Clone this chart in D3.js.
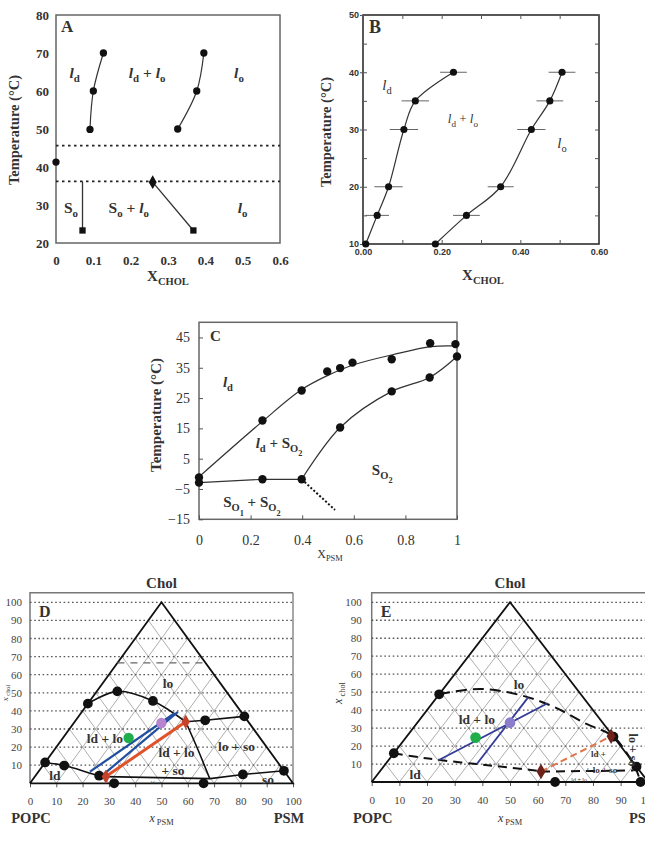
<!DOCTYPE html>
<html>
<head>
<meta charset="utf-8">
<script src="https://cdn.jsdelivr.net/npm/d3@7"></script>
<style>
body { margin: 0; background: #fff; }
svg text { font-family: "Liberation Serif", "Times New Roman", serif; font-weight: bold; fill: #333; }
</style>
</head>
<body>
<svg id="chart" width="645" height="845"></svg>
<script>
// ---------- panel A : T vs x_chol ----------
var aLdBound = [[0.091, 49.9], [0.100, 60], [0.127, 70]];
var aLoBound = [[0.326, 50], [0.377, 60], [0.396, 70]];
var aPureTm = [[0, 41.3]];
var aDotted = [45.6, 36.2];
var aSoLine = [[0.071, 36.2], [0.071, 23.3]];
var aSoLo = [[0.259, 36], [0.368, 23.3]];
var aXTicks = [0, 0.1, 0.2, 0.3, 0.4, 0.5, 0.6];
var aYTicks = [20, 30, 40, 50, 60, 70, 80];

// ---------- panel B : [x_chol, T, error] ----------
var bLd = [[0.007, 10, 0], [0.036, 15, 0.03], [0.065, 20, 0.036], [0.104, 30, 0.036], [0.133, 35, 0.035], [0.23, 40, 0.034]];
var bLo = [[0.184, 10, 0], [0.263, 15, 0.034], [0.35, 20, 0.033], [0.428, 30, 0.036], [0.475, 35, 0.034], [0.506, 40, 0.034]];
var bXTicks = [0, 0.2, 0.4, 0.6];
var bYTicks = [10, 20, 30, 40, 50];

// ---------- panel C : T vs x_psm ----------
var cLiquidus = [[0, -1.2], [0.246, 17.6], [0.398, 27.5], [0.497, 33.8], [0.547, 34.9], [0.595, 36.7], [0.747, 37.8], [0.896, 43.1], [0.994, 42.8]];
var cLiquidusFit = [[0, -1], [0.246, 17.3], [0.398, 27.8], [0.5, 32.5], [0.6, 36], [0.75, 39.3], [0.9, 42], [1, 42.2]];
var cSolidusFlat = [[0, -2.9], [0.246, -1.8], [0.398, -1.8]];
var cSolidus = [[0.398, -1.8], [0.547, 15.3], [0.747, 27.2], [0.894, 31.8], [1, 38.7]];
var cEutectic = [[0.398, -1.8], [0.527, -11.9]];
var cXTicks = [0, 0.2, 0.4, 0.6, 0.8, 1];
var cYTicks = [-15, -5, 5, 15, 25, 35, 45];

// ---------- panel D : ternary, points as [x_psm, x_chol] ----------
var dLoBound = [[0, 44], [7.8, 50.8], [24, 45.5], [42.2, 34]];
var dLoSo = [[42.2, 34], [49.2, 34.8], [63, 37]];
var dLdBound = [[0, 11.5], [8.1, 9.8], [24.2, 4.2], [27, 3.7]];
var dBase = [[27, 3.7], [67.2, 2.6], [78.5, 4.9], [93.1, 6.9]];
var dRight = [[42.2, 34], [53.2, 20.3], [67.2, 2.4]];
var dDash66 = [[0, 66.5], [33.5, 66.5]];
var dBlue = [[[19.6, 6.4], [35.6, 38.7]], [[25.3, 4.4], [36.5, 39.5]]];
var dDots = [[0, 11.5], [8.1, 9.8], [0, 44], [7.8, 50.8], [24, 45.5], [49.2, 34.8], [63, 37], [93.1, 6.9], [78.5, 4.9], [66, 0], [32, 0], [24.2, 4.2]];
var dDiamonds = [[27, 3.7], [42.2, 34]];
var dPurple = [33.3, 33.3];
var dGreen = [25, 25];

// ---------- panel E ----------
var eLoBound = [[0, 48.8], [13.3, 51.8], [29.4, 48.4], [44.8, 41.9], [61.5, 32.3], [74.8, 25.2], [90.8, 8.6], [97.2, 0]];
var eLdBound = [[0, 16], [10.6, 13.7], [18.6, 12.2], [33, 10], [44.7, 8.2], [55.2, 6.5], [58.3, 5.8]];
var eBase = [[58.3, 5.8], [91.4, 6.4]];
var eRedTie = [[58.3, 5.8], [73.8, 25.5]];
var eBlue = [[[18.2, 12.2], [41.7, 43.8]], [[33, 10], [33, 47.1]]];
var eDots = [[0, 48.8], [0, 16], [74.8, 25.2], [91.5, 8.5], [97.2, 0], [66.3, 0]];
var eDiamonds = [[58.3, 5.8], [73.8, 25.5]];
var ePurple = [33.5, 33];
var eGreen = [25.2, 24.7];

var ternTicks = [0, 10, 20, 30, 40, 50, 60, 70, 80, 90, 100];

var svg = d3.select("#chart");

// text with italic / subscript parts: [text, "i" | "s" | "is" | "ss"]
function richText(g, x, y, parts, size, anchor) {
    var t = g.append("text").attr("x", x).attr("y", y)
        .attr("font-size", size).attr("text-anchor", anchor || "middle");
    var level = 0;
    var scale = [1, 0.7, 0.55];
    parts.forEach(function (p) {
        var st = p[1] || "";
        var lv = (st.match(/s/g) || []).length;
        var ts = t.append("tspan").text(p[0]);
        if (lv != level) ts.attr("dy", (lv - level) * size * 0.28);
        if (lv > 0) ts.attr("font-size", size * scale[lv]);
        if (st.indexOf("i") >= 0) ts.attr("font-style", "italic");
        level = lv;
    });
    return t;
}

function frame(g, l, t, r, b, col) {
    g.append("rect").attr("x", l).attr("y", t).attr("width", r - l).attr("height", b - t)
        .attr("fill", "none").attr("stroke", col || "#666").attr("stroke-width", 1.5);
}

function styleAxis(g, size, fam) {
    g.select(".domain").remove();
    g.attr("font-size", size);
    g.selectAll("line").attr("stroke", "#555");
    if (fam) g.selectAll("text").style("font-family", fam);
}

function marks(g, pts, type, size, fill, xs, ys) {
    g.selectAll(null).data(pts).enter().append("path")
        .attr("d", d3.symbol().type(type).size(size))
        .attr("transform", function (d) { return "translate(" + xs(d) + "," + ys(d) + ")"; })
        .attr("fill", fill);
}

var fmt = d3.format("~g");

// ================= A =================
(function () {
    var P = { l: 56, r: 280, t: 15, b: 243 };
    var x = d3.scaleLinear().domain([0, 0.6]).range([P.l, P.r]);
    var y = d3.scaleLinear().domain([20, 80]).range([P.b, P.t]);
    var g = svg.append("g");
    frame(g, P.l, P.t, P.r, P.b);
    g.append("g").attr("transform", "translate(" + P.l + ",0)")
        .call(d3.axisLeft(y).tickValues(aYTicks).tickFormat(fmt).tickSize(0).tickPadding(7))
        .call(styleAxis, 13);
    g.append("g").attr("transform", "translate(0," + P.b + ")")
        .call(d3.axisBottom(x).tickValues(aXTicks).tickFormat(fmt).tickSize(0).tickPadding(13))
        .call(styleAxis, 13);

    var curve = d3.line().x(function (d) { return x(d[0]); }).y(function (d) { return y(d[1]); })
        .curve(d3.curveCatmullRom.alpha(0.5));
    [aLdBound, aLoBound].forEach(function (s) {
        g.append("path").attr("d", curve(s)).attr("fill", "none").attr("stroke", "#333").attr("stroke-width", 1.2);
    });
    var lin = d3.line().x(function (d) { return x(d[0]); }).y(function (d) { return y(d[1]); });
    [aSoLine, aSoLo].forEach(function (s) {
        g.append("path").attr("d", lin(s)).attr("fill", "none").attr("stroke", "#333").attr("stroke-width", 1.3);
    });
    g.selectAll(null).data(aDotted).enter().append("line")
        .attr("x1", P.l).attr("x2", P.r).attr("y1", function (d) { return y(d); }).attr("y2", function (d) { return y(d); })
        .attr("stroke", "#222").attr("stroke-width", 1.8).attr("stroke-dasharray", "2.5,3.5");

    var xs = function (d) { return x(d[0]); }, ys = function (d) { return y(d[1]); };
    marks(g, aLdBound.concat(aLoBound).concat(aPureTm), d3.symbolCircle, 42, "#111", xs, ys);
    marks(g, [aSoLine[1], aSoLo[1]], d3.symbolSquare, 40, "#111", xs, ys);
    marks(g, [aSoLo[0]], d3.symbolDiamond, 55, "#111", xs, ys);

    g.append("text").attr("x", 61).attr("y", 32).attr("font-size", 17).text("A");
    richText(g, x(0.05), y(63.4), [["l", "i"], ["d", "s"]], 15.5);
    richText(g, x(0.244), y(63.4), [["l", "i"], ["d", "s"], [" + "], ["l", "i"], ["o", "s"]], 15.5);
    richText(g, x(0.49), y(63.4), [["l", "i"], ["o", "s"]], 15.5);
    richText(g, x(0.04), y(27.9), [["S"], ["o", "s"]], 15.5);
    richText(g, x(0.195), y(27.9), [["S"], ["o", "s"], [" + "], ["l", "i"], ["o", "s"]], 15.5);
    richText(g, x(0.5), y(27.9), [["l", "i"], ["o", "s"]], 15.5);

    g.append("text").attr("transform", "translate(19,130) rotate(-90)").attr("text-anchor", "middle")
        .attr("font-size", 14.5).text("Temperature (°C)");
    richText(g, 168, 281, [["X"], ["CHOL", "s"]], 15);
})();

// ================= B =================
(function () {
    var P = { l: 363, r: 599, t: 15, b: 244 };
    var x = d3.scaleLinear().domain([0, 0.6]).range([P.l, P.r]);
    var y = d3.scaleLinear().domain([10, 50]).range([P.b, P.t]);
    var g = svg.append("g");
    frame(g, P.l, P.t, P.r, P.b, "#222");
    var sans = "Liberation Sans, Arial, sans-serif";
    var minorY = d3.range(10, 51, 5), minorX = d3.range(0, 0.61, 0.1);
    g.append("g").attr("transform", "translate(" + P.l + ",0)")
        .call(d3.axisLeft(y).tickValues(bYTicks).tickSize(3).tickPadding(1)).call(styleAxis, 9, sans);
    g.append("g").attr("transform", "translate(" + P.l + ",0)")
        .call(d3.axisLeft(y).tickValues(minorY).tickSize(-4).tickFormat("")).call(styleAxis, 9);
    g.append("g").attr("transform", "translate(" + P.r + ",0)")
        .call(d3.axisRight(y).tickValues(minorY).tickSize(-4).tickFormat("")).call(styleAxis, 9);
    g.append("g").attr("transform", "translate(0," + P.b + ")")
        .call(d3.axisBottom(x).tickValues(bXTicks).tickFormat(d3.format(".2f")).tickSize(0).tickPadding(5)).call(styleAxis, 9, sans);
    g.append("g").attr("transform", "translate(0," + P.b + ")")
        .call(d3.axisBottom(x).tickValues(minorX).tickSize(-4).tickFormat("")).call(styleAxis, 9);
    g.append("g").attr("transform", "translate(0," + P.t + ")")
        .call(d3.axisTop(x).tickValues(minorX).tickSize(-4).tickFormat("")).call(styleAxis, 9);

    var curve = d3.line().x(function (d) { return x(d[0]); }).y(function (d) { return y(d[1]); })
        .curve(d3.curveCatmullRom.alpha(0.5));
    [bLd, bLo].forEach(function (s) {
        g.append("path").attr("d", curve(s)).attr("fill", "none").attr("stroke", "#333").attr("stroke-width", 1.2);
        g.selectAll(null).data(s.filter(function (d) { return d[2] > 0; })).enter().append("line")
            .attr("x1", function (d) { return x(d[0] - d[2]); }).attr("x2", function (d) { return x(d[0] + d[2]); })
            .attr("y1", function (d) { return y(d[1]); }).attr("y2", function (d) { return y(d[1]); })
            .attr("stroke", "#666").attr("stroke-width", 1);
        marks(g, s, d3.symbolCircle, 40, "#111", function (d) { return x(d[0]); }, function (d) { return y(d[1]); });
    });

    g.append("text").attr("x", 369).attr("y", 33).attr("font-size", 18).text("B");
    richText(g, x(0.061), y(36.9), [["l", "i"], ["d", "s"]], 15).style("font-weight", "normal");
    richText(g, x(0.254), y(31.1), [["l", "i"], ["d", "s"], [" + "], ["l", "i"], ["o", "s"]], 13).style("font-weight", "normal");
    richText(g, x(0.506), y(26.8), [["l", "i"], ["o", "s"]], 15).style("font-weight", "normal");

    g.append("text").attr("transform", "translate(331,132) rotate(-90)").attr("text-anchor", "middle")
        .attr("font-size", 14.5).text("Temperature (°C)");
    richText(g, 483, 280, [["X"], ["CHOL", "s"]], 15);
})();

// ================= C =================
(function () {
    var P = { l: 199, r: 457, t: 322.3, b: 519.3 };
    var x = d3.scaleLinear().domain([0, 1]).range([P.l, P.r]);
    var y = d3.scaleLinear().domain([-15, 50]).range([P.b, P.t]);
    var g = svg.append("g");
    frame(g, P.l, P.t, P.r, P.b);
    g.append("g").attr("transform", "translate(" + P.l + ",0)")
        .call(d3.axisLeft(y).tickValues(cYTicks).tickFormat(fmt).tickSize(-4).tickPadding(9)).call(styleAxis, 14);
    g.append("g").attr("transform", "translate(0," + P.b + ")")
        .call(d3.axisBottom(x).tickValues(cXTicks).tickFormat(fmt).tickSize(-4).tickPadding(16)).call(styleAxis, 14);
    g.selectAll(".tick text").style("font-weight", "normal");

    var lin = d3.line().x(function (d) { return x(d[0]); }).y(function (d) { return y(d[1]); });
    var smooth = d3.line().x(function (d) { return x(d[0]); }).y(function (d) { return y(d[1]); })
        .curve(d3.curveCatmullRom.alpha(0.5));
    g.append("path").attr("d", smooth(cLiquidusFit)).attr("fill", "none").attr("stroke", "#333").attr("stroke-width", 1.2);
    g.append("path").attr("d", lin(cSolidusFlat)).attr("fill", "none").attr("stroke", "#333").attr("stroke-width", 1.2);
    g.append("path").attr("d", smooth(cSolidus)).attr("fill", "none").attr("stroke", "#333").attr("stroke-width", 1.2);
    g.append("path").attr("d", lin(cEutectic)).attr("fill", "none").attr("stroke", "#111").attr("stroke-width", 2)
        .attr("stroke-dasharray", "2,2");
    var xs = function (d) { return x(d[0]); }, ys = function (d) { return y(d[1]); };
    marks(g, cLiquidus.concat(cSolidusFlat).concat(cSolidus.slice(1)), d3.symbolCircle, 55, "#111", xs, ys);

    g.append("text").attr("x", 210).attr("y", 341).attr("font-size", 15).text("C");
    richText(g, x(0.112), y(28.6), [["l", "i"], ["d", "s"]], 15);
    richText(g, x(0.31), y(8.5), [["l", "i"], ["d", "s"], [" + S"], ["O", "s"], ["2", "ss"]], 15);
    richText(g, x(0.71), y(-0.4), [["S"], ["O", "s"], ["2", "ss"]], 15);
    richText(g, x(0.205), y(-11), [["S"], ["O", "s"], ["1", "ss"], ["  +  S"], ["O", "s"], ["2", "ss"]], 15);

    g.append("text").attr("transform", "translate(161,415) rotate(-90)").attr("text-anchor", "middle")
        .attr("font-size", 15).text("Temperature (°C)");
    richText(g, 330, 558, [["X"], ["PSM", "s"]], 12).style("font-weight", "normal");
})();

// ================= D & E : ternary =================
function ternary(cfg) {
    var x = d3.scaleLinear().domain([0, 100]).range([cfg.l, cfg.r]);
    var y = d3.scaleLinear().domain([0, 100]).range([cfg.b, cfg.top100]);
    var px = function (d) { return x(d[0] + d[1] / 2); };
    var py = function (d) { return y(d[1]); };
    var g = svg.append("g");

    // box
    g.append("path").attr("d", "M" + cfg.r + "," + cfg.t + "H" + cfg.l + "V" + cfg.b)
        .attr("fill", "none").attr("stroke", "#777").attr("stroke-width", 1.5);
    if (cfg.boxRight) g.append("line").attr("x1", cfg.r).attr("x2", cfg.r).attr("y1", cfg.t).attr("y2", cfg.b)
        .attr("stroke", "#777").attr("stroke-width", 1.3);

    // ternary grid (constant psm, constant popc)
    var grid = d3.range(10, 100, 10);
    grid.forEach(function (k) {
        g.append("line").attr("x1", px([k, 0])).attr("y1", py([k, 0])).attr("x2", px([k, 100 - k])).attr("y2", py([k, 100 - k]))
            .attr("stroke", "#999").attr("stroke-width", 0.8);
        g.append("line").attr("x1", px([100 - k, 0])).attr("y1", py([100 - k, 0])).attr("x2", px([0, 100 - k])).attr("y2", py([0, 100 - k]))
            .attr("stroke", "#999").attr("stroke-width", 0.8);
    });
    // dotted chol levels
    g.selectAll(null).data(ternTicks.slice(1)).enter().append("line")
        .attr("x1", cfg.l).attr("x2", cfg.r).attr("y1", function (d) { return y(d); }).attr("y2", function (d) { return y(d); })
        .attr("stroke", "#555").attr("stroke-width", 1.3).attr("stroke-dasharray", "1.6,2.6");

    // axes
    g.append("g").attr("transform", "translate(" + cfg.l + ",0)")
        .call(d3.axisLeft(y).tickValues(ternTicks.slice(1)).tickSize(0).tickPadding(cfg.yPad)).call(styleAxis, 11);
    g.append("g").attr("transform", "translate(0," + cfg.b + ")")
        .call(d3.axisBottom(x).tickValues(ternTicks).tickSize(4).tickPadding(10)).call(styleAxis, 11);
    g.selectAll(".tick text").style("font-weight", "normal").style("fill", "#444");

    // triangle
    g.append("path").attr("d", d3.line().x(px).y(py)([[0, 0], [100, 0], [0, 100], [0, 0]]))
        .attr("fill", "none").attr("stroke", "#111").attr("stroke-width", 1.8);

    g.append("text").attr("x", x(50)).attr("y", cfg.t - 5).attr("text-anchor", "middle").attr("font-size", 15).text("Chol");
    g.append("text").attr("x", x(0) + 1).attr("y", 823).attr("text-anchor", "middle").attr("font-size", 14.5).text("POPC");
    g.append("text").attr("x", x(100) - 4).attr("y", 823).attr("text-anchor", "middle").attr("font-size", 14.5).text("PSM");
    richText(g, x(50), 822, [["x", "i"], [" PSM", "s"]], 12).style("font-weight", "normal");
    richText(g, cfg.yLabX, 693, [["x", "i"], [" chol", "s"]], cfg.yLabSize).style("font-weight", "normal")
        .attr("transform", "rotate(-90," + cfg.yLabX + ",693)");
    g.append("text").attr("x", cfg.l + 9).attr("y", 617).attr("font-size", 16).text(cfg.name);

    return { g: g, x: x, y: y, px: px, py: py };
}

function lab(T, xp, yp, parts, size) {
    return richText(T.g, T.x(xp), T.y(yp), parts, size).attr("dy", "0.35em");
}

// D
(function () {
    var T = ternary({ name: "D", l: 30, r: 293, t: 592.7, b: 783.3, top100: 602.3, yPad: 8, yLabX: 7.5, yLabSize: 9, boxRight: true });
    var g = T.g;
    g.append("path").attr("d", d3.line().x(T.px).y(T.py)(dDash66)).attr("stroke", "#666").attr("stroke-width", 1.3)
        .attr("stroke-dasharray", "7,6").attr("fill", "none");
    var smooth = d3.line().x(T.px).y(T.py).curve(d3.curveCatmullRom.alpha(0.5));
    var lin = d3.line().x(T.px).y(T.py);
    g.append("path").attr("d", smooth(dLoBound)).attr("fill", "none").attr("stroke", "#111").attr("stroke-width", 1.6);
    g.append("path").attr("d", lin(dLoSo)).attr("fill", "none").attr("stroke", "#111").attr("stroke-width", 1.6);
    g.append("path").attr("d", smooth(dLdBound)).attr("fill", "none").attr("stroke", "#111").attr("stroke-width", 1.6);
    g.append("path").attr("d", lin(dBase)).attr("fill", "none").attr("stroke", "#111").attr("stroke-width", 1.6);
    g.append("path").attr("d", smooth(dRight)).attr("fill", "none").attr("stroke", "#111").attr("stroke-width", 1.6);
    dBlue.forEach(function (s) {
        g.append("path").attr("d", lin(s)).attr("stroke", "#1f4f9e").attr("stroke-width", 2.2);
    });
    g.append("path").attr("d", lin(dDiamonds)).attr("stroke", "#e0522a").attr("stroke-width", 3);

    marks(g, dDots, d3.symbolCircle, 75, "#111", T.px, T.py);
    marks(g, dDiamonds, d3.symbolDiamond, 60, "#c4422a", T.px, T.py);
    marks(g, [dPurple], d3.symbolCircle, 85, "#b883cf", T.px, T.py);
    marks(g, [dGreen], d3.symbolCircle, 85, "#1fae4a", T.px, T.py);

    var S = function (t) { return [[t]]; };
    lab(T, 52.5, 55, S("lo"), 13.5);
    lab(T, 28.5, 25, S("ld + lo"), 13.5);
    lab(T, 55.7, 17, S("ld + lo"), 13.5);
    lab(T, 54.4, 7.3, S("+ so"), 13.5);
    lab(T, 78.5, 20.5, S("lo + so"), 13.5);
    lab(T, 9.5, 4.5, S("ld"), 13.5);
    lab(T, 90.5, 2.3, S("so"), 13.5);
    lab(T, 48, 0.8, S("ld+so"), 5).style("font-weight", "normal");
})();

// E
(function () {
    var T = ternary({ name: "E", l: 371.7, r: 648.3, t: 592.7, b: 782, top100: 602.3, yPad: 10, yLabX: 342, yLabSize: 12, boxRight: false });
    var g = T.g;
    var smooth = d3.line().x(T.px).y(T.py).curve(d3.curveCatmullRom.alpha(0.5));
    var lin = d3.line().x(T.px).y(T.py);
    g.append("path").attr("d", smooth(eLoBound)).attr("fill", "none").attr("stroke", "#111").attr("stroke-width", 2)
        .attr("stroke-dasharray", "11,6");
    g.append("path").attr("d", smooth(eLdBound)).attr("fill", "none").attr("stroke", "#111").attr("stroke-width", 2)
        .attr("stroke-dasharray", "9,6");
    g.append("path").attr("d", lin(eBase)).attr("fill", "none").attr("stroke", "#111").attr("stroke-width", 2)
        .attr("stroke-dasharray", "9,6");
    eBlue.forEach(function (s) {
        g.append("path").attr("d", lin(s)).attr("stroke", "#343c98").attr("stroke-width", 1.8);
    });
    g.append("path").attr("d", lin(eRedTie)).attr("stroke", "#e0754c").attr("stroke-width", 2)
        .attr("stroke-dasharray", "7,4");

    marks(g, eDots, d3.symbolCircle, 75, "#111", T.px, T.py);
    marks(g, eDiamonds, d3.symbolDiamond, 70, "#6e2119", T.px, T.py);
    marks(g, [ePurple], d3.symbolCircle, 90, "#8c7ccc", T.px, T.py);
    marks(g, [eGreen], d3.symbolCircle, 90, "#1fae4a", T.px, T.py);

    var S = function (t) { return [[t]]; };
    lab(T, 53.3, 54.5, S("lo"), 13.5);
    lab(T, 38, 35, S("ld + lo"), 13.5);
    lab(T, 15.7, 4.5, S("ld"), 13.5);
    lab(T, 82, 15.5, S("ld +"), 9);
    lab(T, 83, 7, S("+ lo + so"), 9);
    lab(T, 75, 1.2, S("ld + lo"), 6).style("font-weight", "normal");
    var rx = T.x(94.6), ry = T.y(17.8);
    richText(g, rx, ry, [["lo + so"]], 12).attr("dy", "0.35em").attr("transform", "rotate(90," + rx + "," + ry + ")");
})();
</script>
</body>
</html>
